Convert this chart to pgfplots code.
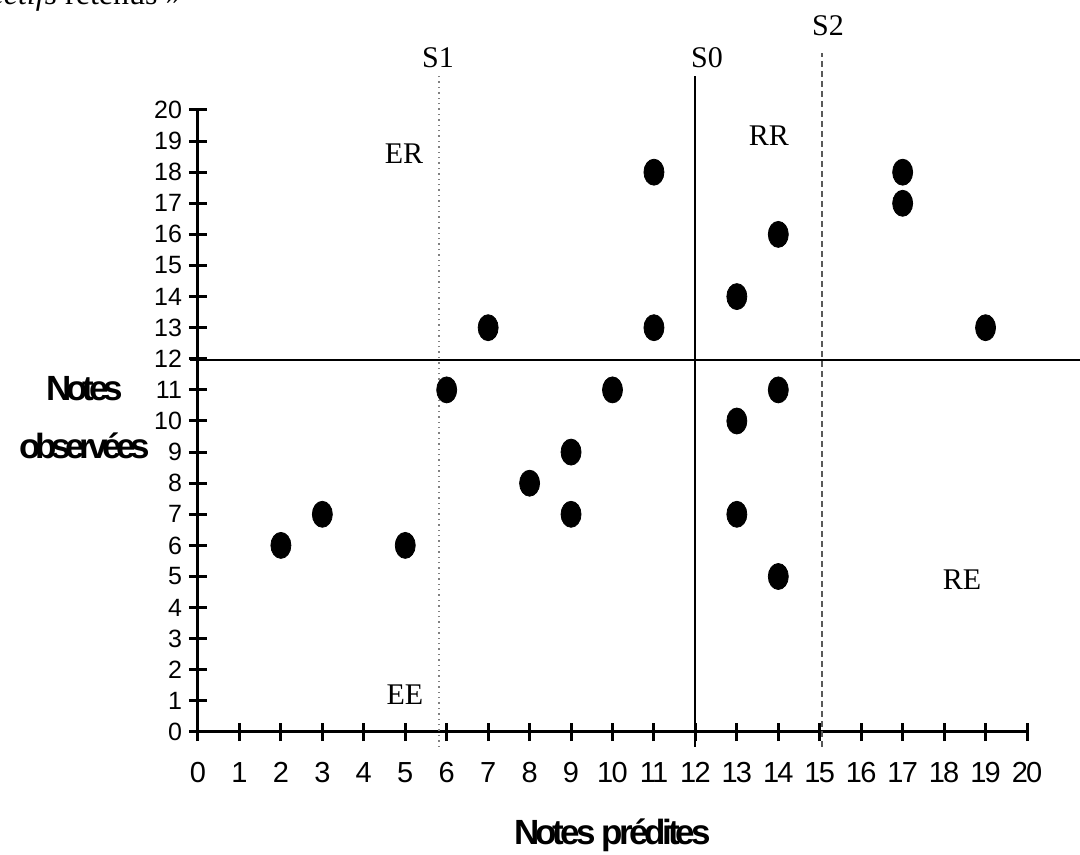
\documentclass[border=0pt]{standalone}
\usepackage{fontspec}
\setmainfont{Liberation Serif}
\newfontfamily\arial{Liberation Sans}
\newfontfamily\arialx[LetterSpace=-6]{Liberation Sans}
\newfontfamily\arialcond[LetterSpace=-15]{Liberation Sans}
\newfontfamily\arialcondb[LetterSpace=-11]{Liberation Sans}
\usepackage{pgfplots}
\pgfplotsset{compat=1.18}
\begin{document}
\begin{tikzpicture}
\useasboundingbox (-99pt,-61.5pt) rectangle (441pt,366pt);
\begin{axis}[
  at={(0,0)}, anchor=origin,
  x=20.725pt, y=15.55pt,
  xmin=0, xmax=20, ymin=0, ymax=20,
  axis lines=left,
  axis line style={-, line width=1.5pt},
  xtick={0,...,20}, ytick={0,...,20},
  tick align=center, major tick length=9pt,
  tick style={line width=1.5pt, black},
  /pgf/number format/assume math mode=true,
  xticklabel style={font=\arialx\fontsize{14.5}{16}\selectfont, yshift=-7pt},
  yticklabel style={font=\arial\fontsize{12.5}{14}\selectfont, xshift=0pt},
  clip=false,
]
\addplot[line width=1pt] coordinates {(-0.2,11.95) (21.5,11.95)};
\addplot[line width=1pt] coordinates {(12,-0.48) (12,21.1)};
\addplot[gray, dotted, line width=0.7pt] coordinates {(5.81,-0.48) (5.81,21.1)};
\addplot[gray!70!black, densely dashed, line width=0.7pt] coordinates {(15.05,-0.48) (15.05,21.83)};
\addplot[only marks, mark=*, mark size=6.5pt, mark options={xscale=0.77, fill=black, draw=black}] coordinates {
 (2,6) (3,7) (5,6) (6,11) (7,13) (8,8) (9,9) (9,7) (10,11) (11,18) (11,13)
 (13,14) (13,10) (13,7) (14,16) (14,11) (14,5) (17,18) (17,17) (19,13)};
\begin{scope}[font=\fontsize{15}{18}\selectfont]
\node at (axis cs:5.79,21.67) {S1};
\node at (axis cs:12.28,21.67) {S0};
\node at (axis cs:15.2,22.7) {S2};
\node at (axis cs:4.97,18.58) {ER};
\node at (axis cs:13.77,19.16) {RR};
\node at (axis cs:18.43,4.89) {RE};
\node at (axis cs:4.99,1.19) {EE};
\end{scope}
\node[anchor=base east, inner sep=0pt, font=\fontsize{16}{19}\selectfont] at (axis cs:-0.386,23.4) {\textit{objectifs} retenus »};
\node[font=\arialcondb\bfseries\fontsize{17.5}{20}\selectfont] at (axis cs:10.0,-3.31) {Notes prédites};
\node[align=center, font=\arialcond\bfseries\fontsize{17.5}{29}\selectfont] at (axis cs:-2.73,10.1) {Notes\\observées};
\end{axis}
\end{tikzpicture}
\end{document}
